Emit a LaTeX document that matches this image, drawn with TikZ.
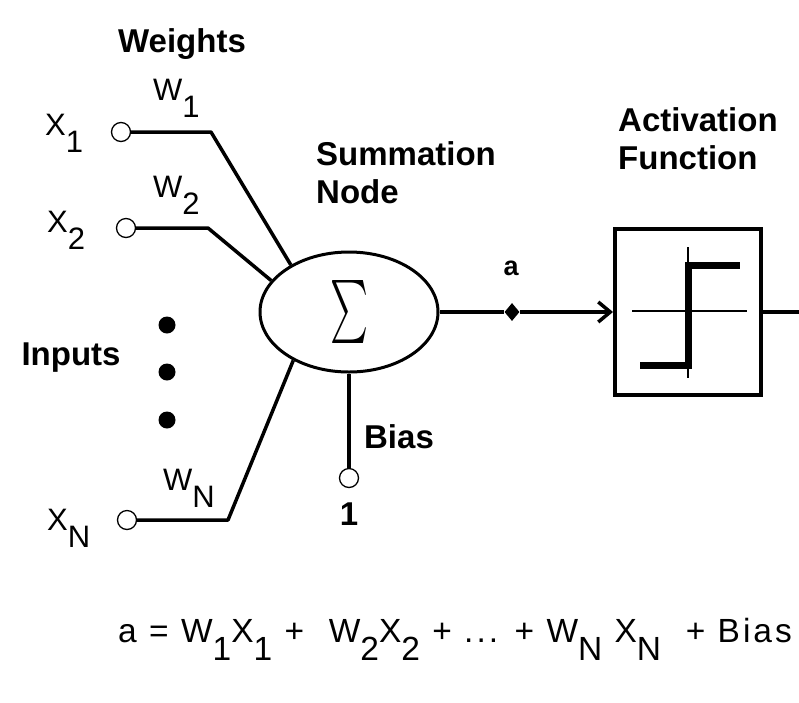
\documentclass[tikz,border=0pt]{standalone}
\usepackage{fontspec}
\setmainfont{Liberation Sans}
\newfontfamily\formulafont[LetterSpace=9]{Liberation Sans}
\usepackage{tikz}
\usetikzlibrary{
    arrows.meta,
    positioning,
    shapes.geometric,
    calc
}
\newcommand{\lowsub}[1]{\raisebox{-0.55em}{#1}}
\tikzset{
    summer/.style={
        ellipse,
        draw=black,
        line width=3pt,
        minimum width=178pt,
        minimum height=120pt,
        inner sep=0pt,
        font=\fontsize{10}{12}\selectfont
    },
    actblock/.style={
        rectangle,
        draw=black,
        line width=4pt,
        minimum width=146pt,
        minimum height=166pt
    },
    terminal/.style={
        circle,
        draw=black,
        fill=white,
        line width=1.3pt,
        minimum size=19pt,
        inner sep=0pt
    },
    bigdot/.style={
        circle,
        fill=black,
        minimum size=17pt,
        inner sep=0pt
    },
    junction/.style={
        diamond,
        fill=black,
        minimum width=15pt,
        minimum height=18pt,
        inner sep=0pt
    },
    heading/.style={
        align=left,
        inner sep=0pt,
        font=\fontsize{33}{38}\selectfont\bfseries
    },
    symbol/.style={
        inner sep=0pt,
        anchor=base west,
        font=\fontsize{31}{36}\selectfont
    },
    wire/.style={
        line width=3.5pt,
        line join=round
    },
    arrow/.style={
        -{Straight Barb[length=12pt, width=20pt]},
        line width=3.5pt
    }
}
\begin{document}
\begin{tikzpicture}[x=1pt, y=-1pt]
\useasboundingbox (0,0) rectangle (799,702);

% summation node and activation block
\node[summer] (sum) at (349,312) {\scalebox{3.6}[6.3]{$\sum$}};
\node[actblock] (act) at (688,312) {};
\node[junction] (adot) at (512,312) {};
\coordinate (out) at (799,312);

% inputs
\node[terminal] (x1) at (121,132) {};
\node[terminal] (x2) at (126,228) {};
\node[terminal] (xn) at (127,520) {};
\node[terminal] (bias1) at (349,478) {};
\coordinate (k1) at (211,132);
\coordinate (k2) at (208,228);
\coordinate (kn) at (228,520);

\node[bigdot] (d1) at (167,325) {};
\node[bigdot] (d2) at (167,372) {};
\node[bigdot] (d3) at (167,420) {};

% texts
\node[heading] (weights) at (182,44) {Weights};
\node[heading] (inputs) at (71,358) {Inputs};
\node[heading, anchor=north west] (sumtxt) at (316,141) {Summation\\Node};
\node[heading, anchor=north west] (acttxt) at (618,107) {Activation\\Function};
\node[heading, font=\fontsize{27}{30}\selectfont\bfseries] (atxt) at (511,268) {a};
\node[heading] (biastxt) at (399,437) {Bias};
\node[heading, below=14pt of bias1] (one) {1};

\node[symbol] (x1txt) at (45,135) {X\lowsub{1}};
\node[symbol] (x2txt) at (47,232) {X\lowsub{2}};
\node[symbol] (xntxt) at (47,530) {X\lowsub{N}};
\node[symbol] (w1txt) at (153,100) {W\lowsub{1}};
\node[symbol] (w2txt) at (153,197) {W\lowsub{2}};
\node[symbol] (wntxt) at (163,490) {W\lowsub{N}};

\node[symbol, font=\fontsize{33.5}{38}\formulafont] (formula) at (118,642)
    {a = W\lowsub{1}X\lowsub{1} +\ \ W\lowsub{2}X\lowsub{2} + ... +\ W\lowsub{N}\ X\lowsub{N} \ + Bias};

% connectors
\draw[wire] (x1) -- (k1) -- (sum.141);
\draw[wire] (x2) -- (k2) -- (sum.158);
\draw[wire] (xn) -- (kn) -- (sum.221);
\draw[wire] (bias1) -- (sum.south);
\draw[wire] (sum.east) -- (adot);
\draw[arrow] (adot) -- (act.west);
\draw[wire] (act.east) -- (out);

% step function
\draw[line width=2pt] (632,311) -- (747,311);
\draw[line width=2pt] (688,247) -- (688,378);
\draw[line width=7pt] (640,365) -- (688,365) -- (688,265) -- (740,265);
\end{tikzpicture}
\end{document}
